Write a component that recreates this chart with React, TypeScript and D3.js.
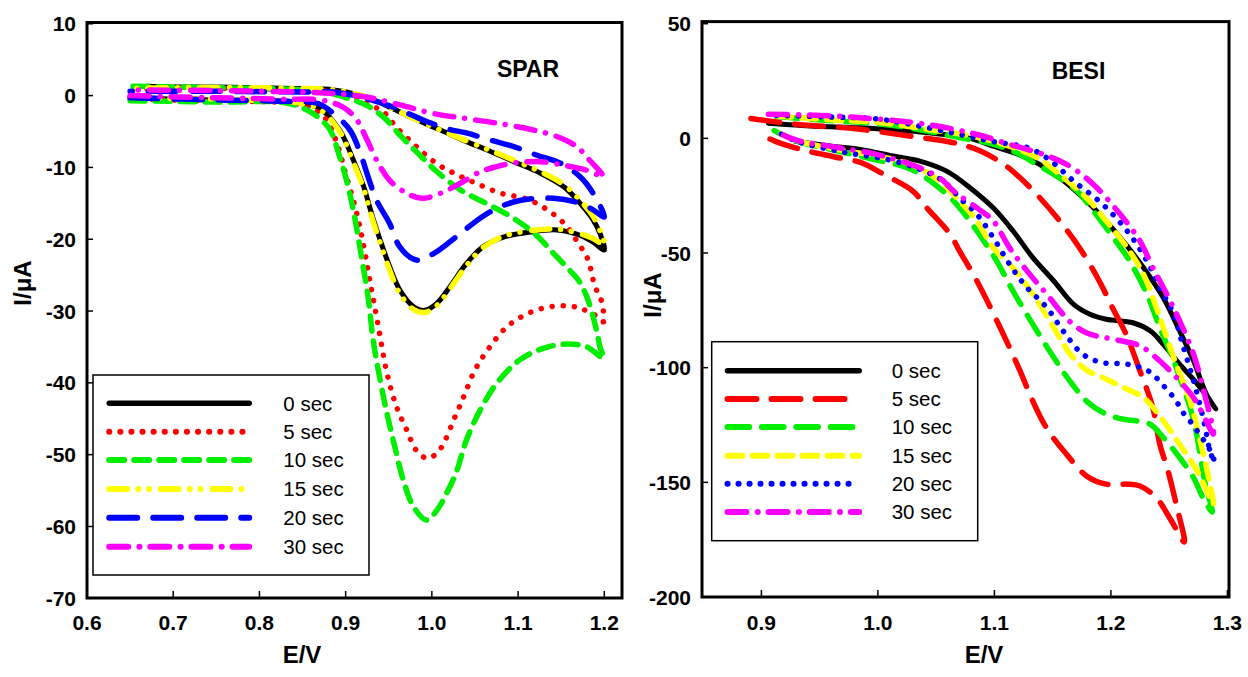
import React from "react";
import * as d3 from "d3";

type Pt = [number, number];

const legendLabels = ["0 sec", "5 sec", "10 sec", "15 sec", "20 sec", "30 sec"];
const sparXTicks = [0.6, 0.7, 0.8, 0.9, 1.0, 1.1, 1.2];
const sparYTicks = [10, 0, -10, -20, -30, -40, -50, -60, -70];
const besiXTicks = [0.9, 1.0, 1.1, 1.2, 1.3];
const besiYTicks = [50, 0, -50, -100, -150, -200];

// ---------- SPAR (left) : lower branch 0.65 -> 1.2, then return branch 1.2 -> 0.65
const spar0: Pt[] = [
  [0.67, -0.3], [0.70, -0.5], [0.75, -0.6], [0.80, -0.7], [0.84, -0.9], [0.87, -1.8], [0.893, -4.8], [0.909, -9.0],
  [0.921, -12.7], [0.930, -16.4], [0.940, -20.1], [0.951, -23.8], [0.963, -27.1], [0.979, -29.4], [0.992, -29.9],
  [1.006, -28.9], [1.021, -26.6], [1.040, -23.4], [1.060, -21.0], [1.083, -19.7], [1.114, -19.0], [1.145, -18.7],
  [1.168, -19.3], [1.187, -20.4], [1.200, -21.5],
  [1.195, -19.2], [1.187, -17.3], [1.172, -15.0], [1.153, -12.7], [1.126, -10.8], [1.095, -9.2], [1.065, -7.6],
  [1.040, -6.4], [1.010, -4.8], [0.979, -3.2], [0.951, -1.6], [0.924, -0.2], [0.886, 0.8], [0.847, 1.0], [0.80, 1.1],
  [0.75, 1.2], [0.70, 1.2], [0.67, 1.3],
];
const spar5: Pt[] = [
  [0.65, -0.4], [0.75, -0.8], [0.83, -1.0], [0.86, -1.8], [0.878, -3.4], [0.890, -6.7], [0.901, -11.3], [0.911, -15.5],
  [0.919, -19.7], [0.928, -25.7], [0.938, -32.2], [0.948, -38.7], [0.959, -43.3], [0.971, -46.6], [0.982, -49.4],
  [0.995, -50.5], [1.008, -49.5], [1.027, -44.7], [1.038, -41.6], [1.050, -38.2], [1.066, -35.2], [1.087, -32.2],
  [1.112, -30.3], [1.137, -29.4], [1.160, -29.3], [1.176, -29.8], [1.195, -31.0], [1.199, -31.5],
  [1.197, -28.7], [1.189, -26.5], [1.181, -22.8], [1.169, -20.4], [1.155, -18.0], [1.134, -15.9], [1.110, -14.4],
  [1.080, -13.6], [1.053, -12.3], [1.029, -11.0], [1.006, -9.5], [0.982, -7.1], [0.959, -4.4], [0.944, -2.3],
  [0.925, -1.1], [0.911, -0.2], [0.89, 0.5], [0.85, 0.8], [0.75, 1.0], [0.65, 1.0],
];
const spar10: Pt[] = [
  [0.65, -0.7], [0.75, -0.9], [0.83, -1.0], [0.855, -2.0], [0.870, -3.2], [0.882, -4.8], [0.893, -8.5], [0.903, -12.7],
  [0.911, -17.3], [0.919, -22.9], [0.926, -28.0], [0.932, -34.1], [0.940, -39.6], [0.948, -44.3], [0.957, -48.9],
  [0.967, -53.6], [0.979, -57.3], [0.994, -59.1], [1.006, -57.7], [1.017, -55.4], [1.029, -52.2], [1.040, -48.0],
  [1.056, -43.8], [1.075, -40.1], [1.102, -36.8], [1.129, -35.2], [1.156, -34.6], [1.180, -35.0], [1.199, -36.6],
  [1.195, -35.0], [1.191, -32.7], [1.185, -29.9], [1.178, -27.5], [1.170, -25.7], [1.162, -24.6], [1.143, -22.2],
  [1.119, -19.2], [1.091, -16.8], [1.063, -15.0], [1.034, -13.2], [1.005, -10.5], [0.982, -7.8], [0.963, -5.5],
  [0.944, -3.0], [0.925, -1.4], [0.906, -0.5], [0.88, 0.4], [0.85, 0.8], [0.75, 1.1], [0.65, 1.3],
];
const spar15: Pt[] = [
  [0.65, -0.2], [0.70, -0.4], [0.75, -0.5], [0.80, -0.7], [0.84, -0.9], [0.87, -1.9], [0.893, -5.0], [0.909, -9.3],
  [0.921, -13.0], [0.930, -16.8], [0.940, -20.5], [0.951, -24.3], [0.963, -27.6], [0.979, -29.8], [0.992, -30.2],
  [1.006, -29.2], [1.021, -26.9], [1.040, -23.7], [1.060, -21.1], [1.083, -19.6], [1.114, -18.8], [1.145, -18.6],
  [1.168, -19.1], [1.187, -19.9], [1.200, -20.8],
  [1.195, -18.8], [1.187, -16.8], [1.172, -14.6], [1.153, -12.4], [1.126, -10.6], [1.095, -9.0], [1.065, -7.5],
  [1.040, -6.3], [1.010, -4.8], [0.979, -3.2], [0.951, -1.6], [0.924, -0.2], [0.886, 0.8], [0.847, 1.0], [0.80, 1.1],
  [0.70, 1.1], [0.65, 1.0],
];
const spar20: Pt[] = [
  [0.65, -0.3], [0.75, -0.6], [0.83, -0.8], [0.868, -1.1], [0.886, -2.5], [0.905, -4.8], [0.917, -8.0], [0.926, -11.3],
  [0.936, -14.6], [0.951, -17.8], [0.963, -21.1], [0.982, -22.9], [1.002, -22.0], [1.033, -19.2], [1.058, -16.9],
  [1.079, -15.5], [1.102, -14.6], [1.141, -14.3], [1.172, -15.0], [1.187, -15.9], [1.200, -16.9],
  [1.187, -13.6], [1.172, -11.3], [1.149, -9.4], [1.122, -8.3], [1.095, -7.1], [1.068, -6.2], [1.040, -5.2],
  [1.017, -4.6], [0.986, -3.2], [0.955, -1.6], [0.924, -0.4], [0.886, 0.5], [0.847, 0.5], [0.75, 0.6], [0.65, 0.6],
];
const spar30: Pt[] = [
  [0.65, 0.0], [0.75, -0.3], [0.83, -0.5], [0.870, -0.6], [0.897, -1.6], [0.913, -3.4], [0.925, -6.2], [0.936, -9.0],
  [0.951, -11.8], [0.971, -13.6], [0.988, -14.3], [1.010, -13.6], [1.033, -12.2], [1.056, -10.6], [1.075, -9.9],
  [1.095, -9.4], [1.126, -9.2], [1.153, -9.7], [1.180, -10.4], [1.199, -11.3],
  [1.183, -9.0], [1.168, -7.1], [1.145, -5.7], [1.118, -4.8], [1.079, -3.9], [1.040, -3.2], [1.002, -2.5],
  [0.963, -1.3], [0.924, -0.2], [0.886, 0.3], [0.847, 0.5], [0.75, 0.7], [0.65, 0.8],
];

// ---------- BESI (right) : upper branch 0.9 -> 1.29, then lower branch back
const besi0: Pt[] = [
  [0.906, 6.6], [0.946, 5.3], [0.985, 4.6], [1.042, 2.5], [1.079, 0], [1.099, -3.4], [1.128, -8.5], [1.156, -17.2],
  [1.185, -30.3], [1.208, -43.3], [1.228, -56.4], [1.245, -69.5], [1.259, -84.0], [1.271, -97.1], [1.282, -111.6],
  [1.290, -118],
  [1.283, -113], [1.272, -105.8], [1.259, -98.5], [1.245, -89.8], [1.234, -84.0], [1.219, -80.4], [1.196, -78.9],
  [1.182, -76.7], [1.168, -72.4], [1.151, -62.2], [1.133, -52.0], [1.116, -40.4], [1.099, -30.3], [1.079, -21.5],
  [1.059, -14.3], [1.036, -9.9], [1.013, -7.7], [0.985, -4.8], [0.962, -3.5], [0.929, -1.3],
];
const besi5: Pt[] = [
  [0.891, 8.7], [0.929, 6.2], [0.979, 4.3], [1.027, 1.0], [1.065, -1.9], [1.088, -5.5], [1.108, -11.3], [1.122, -17.2],
  [1.139, -25.9], [1.156, -36], [1.173, -47.7], [1.190, -62.2], [1.202, -74.5], [1.213, -85.4], [1.225, -101.5],
  [1.236, -117.4], [1.242, -133.4], [1.249, -145], [1.256, -159.5], [1.263, -176],
  [1.251, -166], [1.239, -156.7], [1.225, -151.6], [1.214, -150.8], [1.196, -150.8], [1.179, -147.2], [1.162, -137.8],
  [1.145, -126.5], [1.132, -113.5], [1.122, -101.4], [1.105, -82.6], [1.085, -62.2], [1.070, -49.1], [1.062, -41.8],
  [1.042, -30.3], [1.030, -23.0], [1.005, -15.7], [0.985, -10.5], [0.962, -8.0], [0.936, -5.1], [0.912, -1.3],
  [0.896, 2.4],
];
const besi10: Pt[] = [
  [0.913, 9.5], [0.962, 7.6], [0.985, 7.0], [1.013, 5.6], [1.042, 3.2], [1.070, 0.3], [1.099, -2.6], [1.119, -6.3],
  [1.136, -11.3], [1.151, -15.7], [1.171, -23], [1.185, -31.7], [1.202, -43.3], [1.216, -53.4], [1.231, -68],
  [1.242, -82.6], [1.254, -97.1], [1.261, -107.2], [1.268, -117.4], [1.273, -127.6], [1.277, -139.2], [1.281, -150.8],
  [1.287, -163],
  [1.279, -156.7], [1.271, -148], [1.259, -139.2], [1.245, -130.5], [1.234, -124.7], [1.222, -123.2], [1.211, -122.5],
  [1.195, -120], [1.180, -115], [1.165, -106], [1.151, -95.6], [1.133, -81.1], [1.116, -66.6], [1.102, -53.5],
  [1.085, -40.4], [1.070, -30.2], [1.056, -23.0], [1.029, -13.6], [0.995, -9.0], [0.962, -5.1], [0.929, -1.0],
  [0.911, 3.4],
];
const besi15: Pt[] = [
  [0.913, 9.8], [0.962, 8.0], [0.999, 7.0], [1.042, 4.0], [1.085, 0.5], [1.119, -4.5], [1.140, -9.5], [1.156, -15.7],
  [1.179, -25.9], [1.196, -36], [1.214, -47.7], [1.228, -59.3], [1.239, -73.8], [1.245, -82.6], [1.256, -98.5],
  [1.268, -114.5], [1.276, -130.5], [1.282, -143.6], [1.288, -159.5],
  [1.285, -156.7], [1.274, -145], [1.259, -133.4], [1.245, -123.2], [1.228, -113.1], [1.211, -108.7], [1.196, -105],
  [1.179, -101], [1.165, -94], [1.151, -82.6], [1.133, -68], [1.116, -56.4], [1.099, -47.7], [1.085, -36],
  [1.070, -27.3], [1.053, -18.6], [1.028, -11.3], [0.999, -7.7], [0.962, -4.5], [0.929, -0.8], [0.913, 3.0],
];
const besi20: Pt[] = [
  [0.913, 10], [0.960, 9.3], [0.999, 8.5], [1.028, 6.1], [1.070, 1.7], [1.100, -1.5], [1.128, -4.0], [1.145, -8.5],
  [1.168, -18.6], [1.193, -28.8], [1.214, -40.4], [1.231, -53.5], [1.242, -65.1], [1.254, -76.7], [1.261, -89],
  [1.271, -105.8], [1.277, -117.4], [1.281, -126.2], [1.285, -136.3], [1.289, -141.4],
  [1.287, -137.8], [1.282, -133.4], [1.276, -129], [1.269, -124], [1.262, -119.6], [1.256, -114.5], [1.249, -110.1],
  [1.232, -101.4], [1.214, -98.5], [1.193, -97.8], [1.176, -94.2], [1.159, -84], [1.145, -73.8], [1.128, -65.1],
  [1.113, -54.9], [1.099, -43.3], [1.085, -33.1], [1.070, -25.9], [1.056, -18.6], [1.036, -13.5], [1.008, -9.2],
  [0.970, -6.0], [0.930, -1.2], [0.913, 3.0],
];
const besi30: Pt[] = [
  [0.906, 10.5], [0.950, 10], [0.985, 9], [1.042, 6.1], [1.085, 1.7], [1.113, -2.6], [1.142, -7], [1.162, -11.3],
  [1.185, -20.1], [1.208, -33.1], [1.225, -44.8], [1.236, -56.4], [1.248, -68], [1.259, -79.6], [1.271, -94.2],
  [1.279, -108.7], [1.288, -129],
  [1.279, -120.3], [1.271, -113.1], [1.259, -105.8], [1.242, -97.1], [1.225, -90.5], [1.202, -87.6], [1.180, -85],
  [1.165, -80], [1.145, -68], [1.128, -57.8], [1.113, -47.7], [1.099, -36], [1.085, -30.3], [1.065, -23],
  [1.053, -17.2], [1.028, -11.3], [0.999, -7], [0.960, -3.5], [0.930, -0.8], [0.911, 3.4],
];

const sparSeries = [spar0, spar5, spar10, spar15, spar20, spar30];
const besiSeries = [besi0, besi5, besi10, besi15, besi20, besi30];

type Sty = { color: string; dash: string | null; width: number };
const GREEN = "#00ee00";
const sparStyles: Sty[] = [
  { color: "#000000", dash: null, width: 5 },
  { color: "#ff0000", dash: "0.1 11", width: 5.5 },
  { color: GREEN, dash: "15 10", width: 5.5 },
  { color: "#ffff00", dash: "18 11 0.1 10.7 0.1 11.7", width: 5.5 },
  { color: "#0000ff", dash: "28 16", width: 5.5 },
  { color: "#ff00ff", dash: "19 11.2 0.1 10.8", width: 5.5 },
];
const besiStyles: Sty[] = [
  { color: "#000000", dash: null, width: 5 },
  { color: "#ff0000", dash: "29 15", width: 5.5 },
  { color: GREEN, dash: "21.7 12.7", width: 5.5 },
  { color: "#ffff00", dash: "15 10", width: 5.5 },
  { color: "#0000ff", dash: "0.1 10.9", width: 5.5 },
  { color: "#ff00ff", dash: "19 11.2 0.1 10.8", width: 5.5 },
];

const FONT = "'Liberation Sans', Arial, Helvetica, sans-serif";

type PanelProps = {
  title: string;
  titlePos: [number, number];
  xDomain: [number, number];
  xRange: [number, number];
  yDomain: [number, number];
  yRange: [number, number];
  frame: { x0: number; x1: number; y0: number; y1: number };
  xTicks: number[];
  yTicks: number[];
  yFmt: (v: number) => string;
  series: Pt[][];
  styles: Sty[];
  legend: { x: number; y: number; w: number; h: number; lx1: number; lx2: number; rows: number[]; tx: number };
  xTitlePos: [number, number];
  yTitlePos: [number, number];
};

function Panel(p: PanelProps) {
  const x = d3.scaleLinear().domain(p.xDomain).range(p.xRange);
  const y = d3.scaleLinear().domain(p.yDomain).range(p.yRange);
  const line = d3
    .line<Pt>()
    .x((d) => x(d[0]))
    .y((d) => y(d[1]))
    .curve(d3.curveCatmullRom.alpha(0.5));
  const f = p.frame;
  const fx = d3.format(".1f");
  return (
    <g>
      {p.series.map((s, i) => (
        <path
          key={i}
          d={line(s) || ""}
          fill="none"
          stroke={p.styles[i].color}
          strokeWidth={p.styles[i].width}
          strokeDasharray={p.styles[i].dash || undefined}
          strokeLinecap="round"
          strokeLinejoin="round"
        />
      ))}
      <rect x={f.x0} y={f.y0} width={f.x1 - f.x0} height={f.y1 - f.y0} fill="none" stroke="#000" strokeWidth={3} />
      {p.xTicks.map((t) => (
        <g key={"x" + t}>
          <line x1={x(t)} x2={x(t)} y1={f.y1} y2={f.y1 - 7} stroke="#000" strokeWidth={1.5} />
          <text x={x(t)} y={629.5} textAnchor="middle" fontFamily={FONT} fontWeight="bold" fontSize={21}>
            {fx(t)}
          </text>
        </g>
      ))}
      {p.yTicks.map((t) => (
        <g key={"y" + t}>
          <line x1={f.x0} x2={f.x0 + 6} y1={y(t)} y2={y(t)} stroke="#000" strokeWidth={1.5} />
          <text x={f.x0 - 11} y={y(t) + 7.5} textAnchor="end" fontFamily={FONT} fontWeight="bold" fontSize={21}>
            {p.yFmt(t)}
          </text>
        </g>
      ))}
      <text x={p.titlePos[0]} y={p.titlePos[1] + 8} textAnchor="middle" fontFamily={FONT} fontWeight="bold" fontSize={23}>
        {p.title}
      </text>
      <text x={p.xTitlePos[0]} y={p.xTitlePos[1] + 8.6} textAnchor="middle" fontFamily={FONT} fontWeight="bold" fontSize={24}>
        E/V
      </text>
      <text
        transform={`translate(${p.yTitlePos[0] + 8.6},${p.yTitlePos[1]}) rotate(-90)`}
        textAnchor="middle"
        fontFamily={FONT}
        fontWeight="bold"
        fontSize={24}
      >
        I/μA
      </text>
      <rect x={p.legend.x} y={p.legend.y} width={p.legend.w} height={p.legend.h} fill="#fff" stroke="#000" strokeWidth={1.5} />
      {legendLabels.map((lab, i) => (
        <g key={lab}>
          <line
            x1={p.legend.lx1}
            x2={p.legend.lx2}
            y1={p.legend.rows[i]}
            y2={p.legend.rows[i]}
            stroke={p.styles[i].color}
            strokeWidth={p.styles[i].width + 0.5}
            strokeDasharray={p.styles[i].dash || undefined}
            strokeLinecap="round"
          />
          <text x={p.legend.tx} y={p.legend.rows[i] + 7.2} fontFamily={FONT} fontSize={20.5}>
            {lab}
          </text>
        </g>
      ))}
    </g>
  );
}

export default function App() {
  return (
    <svg
      width={1248}
      height={677}
      viewBox="0 0 1248 677"
      style={{ position: "absolute", left: 0, top: 0, background: "#fff" }}
    >
      <rect x={0} y={0} width={1248} height={677} fill="#fff" />
      <Panel
        title="SPAR"
        titlePos={[528, 68.5]}
        xDomain={[0.6, 1.2]}
        xRange={[87, 604.3]}
        yDomain={[-70, 10]}
        yRange={[598.3, 23.8]}
        frame={{ x0: 87, x1: 622, y0: 22.5, y1: 598 }}
        xTicks={sparXTicks}
        yTicks={sparYTicks}
        yFmt={(v) => String(v)}
        series={sparSeries}
        styles={sparStyles}
        legend={{ x: 93, y: 375, w: 276, h: 200, lx1: 109.2, lx2: 249.2, rows: [403.3, 431.7, 460, 489, 517.7, 546.7], tx: 283.3 }}
        xTitlePos={[302, 654]}
        yTitlePos={[22.5, 283]}
      />
      <Panel
        title="BESI"
        titlePos={[1078.5, 71]}
        xDomain={[0.9, 1.3]}
        xRange={[761.4, 1227.4]}
        yDomain={[-200, 50]}
        yRange={[597, 23.7]}
        frame={{ x0: 702, x1: 1229, y0: 21.6, y1: 597 }}
        xTicks={besiXTicks}
        yTicks={besiYTicks}
        yFmt={(v) => String(v)}
        series={besiSeries}
        styles={besiStyles}
        legend={{ x: 711.7, y: 341.7, w: 266, h: 199, lx1: 727.5, lx2: 859.2, rows: [370.7, 399, 427, 455.7, 483.7, 512], tx: 891.7 }}
        xTitlePos={[984, 654]}
        yTitlePos={[652, 295]}
      />
    </svg>
  );
}
